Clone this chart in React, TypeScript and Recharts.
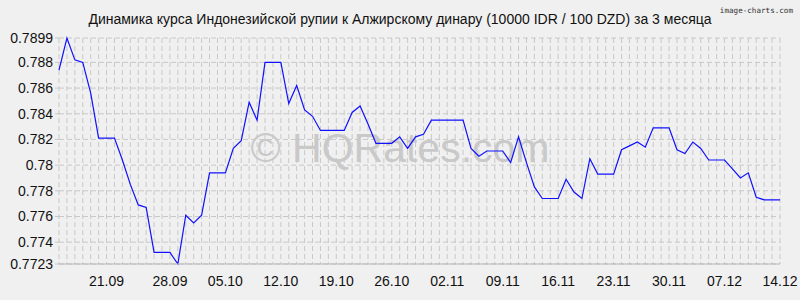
import { LineChart, Line, XAxis, YAxis, CartesianGrid } from "recharts";

// daily rate, 92 points (15.09 .. 14.12)
const rates = [
  0.7874, 0.7899, 0.7882, 0.788, 0.7856, 0.7821, 0.7821, 0.7821, 0.7804, 0.7785,
  0.7769, 0.7767, 0.7732, 0.7732, 0.7732, 0.7723, 0.7761, 0.7755, 0.7761, 0.7794,
  0.7794, 0.7794, 0.7813, 0.7819, 0.7849, 0.7835, 0.788, 0.788, 0.788, 0.7848,
  0.7862, 0.7843, 0.7838, 0.7827, 0.7827, 0.7827, 0.7827, 0.7841, 0.7846, 0.7832,
  0.7817, 0.7817, 0.7817, 0.7822, 0.7813, 0.7822, 0.7824, 0.7835, 0.7835, 0.7835,
  0.7835, 0.7835, 0.7813, 0.7807, 0.7811, 0.7811, 0.7811, 0.7802, 0.7822, 0.7802,
  0.7783, 0.7774, 0.7774, 0.7774, 0.7789, 0.7779, 0.7774, 0.7805, 0.7793, 0.7793,
  0.7793, 0.7812, 0.7815, 0.7818, 0.7814, 0.7829, 0.7829, 0.7829, 0.7812, 0.7809,
  0.7818, 0.7813, 0.7804, 0.7804, 0.7804, 0.7797, 0.779, 0.7794, 0.7775, 0.7773,
  0.7773, 0.7773,
];

const tickIdx = [6, 14, 21, 28, 35, 42, 49, 56, 63, 70, 77, 84, 91];
const tickLabels = ["21.09", "28.09", "05.10", "12.10", "19.10", "26.10", "02.11", "09.11", "16.11", "23.11", "30.11", "07.12", "14.12"];
const yTicks = [0.7723, 0.774, 0.776, 0.778, 0.78, 0.782, 0.784, 0.786, 0.788, 0.7899];

const title = "Динамика курса Индонезийской рупии к Алжирскому динару (10000 IDR / 100 DZD) за 3 месяца";

const FONT = "'Liberation Sans', Arial, sans-serif";

export default function App() {
  const data = rates.map((v, i) => ({ i, v }));

  return (
    <div style={{ position: "absolute", left: 0, top: 0, width: 800, height: 300, background: "#f0f0f0", fontFamily: FONT }}>
      {/* watermark sits under the chart */}
      <svg width={800} height={300} style={{ position: "absolute", left: 0, top: 0 }}>
        <text x={400} y={162} textAnchor="middle" fontSize={41} fontFamily={FONT} fill="#c9c9c9">
          © HQRates.com
        </text>
      </svg>
      <div style={{ position: "absolute", left: 0, top: 0 }}>
        <LineChart width={800} height={300} data={data} margin={{ top: 38, right: 20, bottom: 6, left: 0 }}>
          <CartesianGrid
            stroke="#c8c8c8"
            strokeDasharray="5 3"
            verticalCoordinatesGenerator={({ offset }: any) =>
              rates.map((_, i) => offset.left + (i * offset.width) / (rates.length - 1))
            }
          />
          <XAxis
            dataKey="i"
            type="number"
            domain={[0, rates.length - 1]}
            ticks={tickIdx}
            tickFormatter={(v: number) => tickLabels[tickIdx.indexOf(v)] ?? ""}
            height={30}
            tickLine={false}
            tickSize={0}
            tickMargin={12}
            axisLine={{ stroke: "#b8b8b8" }}
            tick={{ fontSize: 14, fill: "#111", fontFamily: FONT }}
          />
          <YAxis
            type="number"
            domain={[0.7723, 0.7899]}
            ticks={yTicks}
            width={59}
            axisLine={false}
            tickLine={{ stroke: "#c8c8c8" }}
            tickSize={4}
            tickMargin={2}
            tickFormatter={(v: number) => String(v)}
            tick={{ fontSize: 14, fill: "#111", fontFamily: FONT }}
          />
          <Line
            dataKey="v"
            stroke="#1010ff"
            strokeWidth={1.2}
            dot={false}
            isAnimationActive={false}
          />
        </LineChart>
      </div>
      <svg width={800} height={300} style={{ position: "absolute", left: 0, top: 0, pointerEvents: "none" }}>
        <text x={400} y={24} textAnchor="middle" fontSize={14} fontFamily={FONT} fill="#111">
          {title}
        </text>
        <text x={793} y={13} textAnchor="end" fontSize={7.6} fontFamily="'DejaVu Sans Mono', monospace" fill="#333">
          image-charts.com
        </text>
      </svg>
    </div>
  );
}
